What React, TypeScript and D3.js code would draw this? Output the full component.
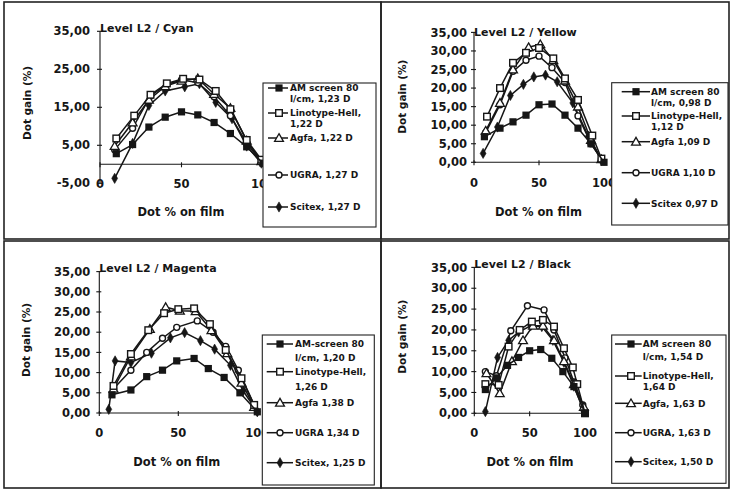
import * as d3 from 'd3';

type Pt = [number, number];

// ---- data (dot % on film, dot gain %) ----
const cyanAM: Pt[] = [[10, 2.8], [20, 5.2], [30, 9.8], [40, 12.4], [50, 13.8], [60, 13.0], [70, 11.0], [80, 8.1], [90, 4.6], [100, 0.3]];
const cyanLino: Pt[] = [[10, 6.8], [21, 12.8], [31, 18.3], [41, 21.3], [51, 22.5], [61, 22.3], [71, 19.3], [80, 14.5], [90, 6.4], [99, 1.2]];
const cyanAgfa: Pt[] = [[9, 4.8], [20, 11], [30, 17], [40, 20.5], [50, 22], [60, 22.6], [70, 18.5], [80, 14.8], [90, 6.2], [99, 0.8]];
const cyanUgra: Pt[] = [[9, 3.8], [20, 9.5], [31, 18], [41, 21], [50, 22.2], [60, 21.5], [70, 17.8], [80, 12.8], [90, 5.6], [99, 0.6]];
const cyanScitex: Pt[] = [[9, -3.7], [20, 5.5], [30, 15.5], [40, 19.3], [52, 20.4], [61, 21.2], [71, 16.3], [81, 12], [90, 4.8], [99, 0.3]];

const yellowAM: Pt[] = [[8, 6.9], [20, 9.2], [30, 10.9], [40, 12.7], [50, 15.5], [60, 15.7], [70, 12.7], [80, 9.2], [90, 5], [100, 0]];
const yellowLino: Pt[] = [[10, 12.3], [20, 20], [30, 26.8], [40, 29.5], [50, 30.8], [61, 28], [70, 22.6], [80, 16.8], [91, 7.2], [98, 1]];
const yellowAgfa: Pt[] = [[9, 8.5], [20, 16], [30, 25], [42, 31], [51, 31.8], [61, 27.5], [70, 22], [80, 15], [90, 6], [98, 0.8]];
const yellowUgra: Pt[] = [[9, 8], [20, 15.5], [30, 24.5], [40, 27.5], [50, 28.6], [60, 25.5], [70, 21.5], [80, 12.5], [90, 5], [98, 0.8]];
const yellowScitex: Pt[] = [[7, 2.4], [18, 9.5], [28, 18], [38, 21], [46, 23], [55, 23.5], [64, 21.7], [76, 16], [88, 7], [98, 0.5]];

const magentaAM: Pt[] = [[8, 4.5], [20, 5.7], [30, 9], [40, 10.6], [49, 12.9], [60, 13.5], [69, 11], [79, 8.8], [89, 5], [100, 0.3]];
const magentaLino: Pt[] = [[9, 6.7], [20, 14.6], [31, 20.5], [41, 24.7], [50, 25.7], [60, 25.9], [70, 22], [80, 15.6], [90, 8.6], [98, 2]];
const magentaAgfa: Pt[] = [[9, 6], [20, 14], [32, 20.8], [42, 26.2], [51, 25.3], [61, 25.2], [71, 20.5], [81, 14.8], [90, 7.5], [98, 1.5]];
const magentaUgra: Pt[] = [[9, 6], [20, 10.6], [30, 15], [40, 18.5], [49, 21.2], [62, 22.8], [72, 20], [80, 16.5], [88, 10.6], [98, 2]];
const magentaScitex: Pt[] = [[6, 0.9], [10, 12.9], [20, 12.5], [33, 14.8], [45, 18.6], [54, 19.9], [64, 17.9], [73, 15.8], [83, 11.8], [91, 5.5], [100, 0.3]];

const blackAM: Pt[] = [[10, 5.7], [20, 8.5], [30, 11.5], [40, 13.4], [50, 15], [60, 15.3], [70, 13.2], [80, 10], [90, 6.4], [100, 0]];
const blackLino: Pt[] = [[10, 7], [22, 6.8], [31, 16], [41, 20], [52, 22], [62, 22.4], [72, 20.8], [81, 15.6], [89, 11], [93, 7], [100, 0]];
const blackAgfa: Pt[] = [[11, 9.6], [23, 4.8], [34, 12.5], [44, 17.5], [53, 21], [62, 21], [72, 17.5], [81, 12.5], [90, 7], [99, 1.5]];
const blackUgra: Pt[] = [[10, 10], [20, 9], [33, 19.8], [48, 25.8], [63, 24.8], [72, 20], [82, 13.3], [90, 7.5], [98, 2]];
const blackScitex: Pt[] = [[10, 0.4], [21, 13.4], [31, 17.5], [40, 19.5], [51, 21], [61, 20.8], [71, 17.5], [81, 12.2], [90, 6.5], [99, 0.5]];

const cyanLegend = [['AM screen 80', 'l/cm, 1,23 D'], ['Linotype-Hell,', '1,22 D'], ['Agfa, 1,22 D'], ['UGRA, 1,27 D'], ['Scitex, 1,27 D']];
const yellowLegend = [['AM screen 80', 'l/cm, 0,98 D'], ['Linotype-Hell,', '1,12 D'], ['Agfa 1,09 D'], ['UGRA 1,10 D'], ['Scitex 0,97 D']];
const magentaLegend = [['AM-screen 80', 'l/cm, 1,20 D'], ['Linotype-Hell,', '1,26 D'], ['Agfa 1,38 D'], ['UGRA 1,34 D'], ['Scitex, 1,25 D']];
const blackLegend = [['AM screen 80', 'l/cm, 1,54 D'], ['Linotype-Hell,', '1,64 D'], ['Agfa, 1,63 D'], ['UGRA, 1,63 D'], ['Scitex, 1,50 D']];

const xTicks = [0, 50, 100];
const cyanYTicks = [-5, 5, 15, 25, 35];
const yTicks = [0, 5, 10, 15, 20, 25, 30, 35];

const MARKERS = ['filledSquare', 'openSquare', 'triangle', 'circle', 'diamond'];
const INK = '#161616';
const FONT = '"DejaVu Sans", Arial, sans-serif';

interface PanelCfg {
  title: string;
  series: Pt[][];
  legend: string[][];
  yDomain: [number, number];
  ticks: number[];
  frame: [number, number, number, number];
  xr: [number, number];
  yr: [number, number];
  labelGap: number;
  xLabelY: number;
  titleY: number;
  yLabel: [number, number];
  xTitle: [number, number];
  box: [number, number, number, number];
  rows: number[];
  line: [number, number, number, number];
}

const panels: PanelCfg[] = [
  {
    title: 'Level L2 / Cyan', series: [cyanAM, cyanLino, cyanAgfa, cyanUgra, cyanScitex], legend: cyanLegend,
    yDomain: [-5, 35], ticks: cyanYTicks, frame: [4, 2, 381, 239], xr: [100, 263], yr: [183.3, 31.3], labelGap: 10,
    xLabelY: 183.5, titleY: 28.5, yLabel: [27, 103], xTitle: [181, 212],
    box: [263, 83, 376, 227], rows: [88, 98.8, 113, 124, 138, 175, 207], line: [268, 288, 279, 290],
  },
  {
    title: 'Level L2 / Yellow', series: [yellowAM, yellowLino, yellowAgfa, yellowUgra, yellowScitex], legend: yellowLegend,
    yDomain: [0, 35], ticks: yTicks, frame: [381, 2, 729, 239], xr: [474, 604], yr: [162.3, 32.4], labelGap: 7,
    xLabelY: 183, titleY: 31.7, yLabel: [402.7, 96.7], xTitle: [538.5, 211.7],
    box: [611.7, 82.7, 728, 225], rows: [91.7, 102.5, 116, 127, 141.7, 172.7, 203.3], line: [621.7, 650, 636, 651],
  },
  {
    title: 'Level L2 / Magenta', series: [magentaAM, magentaLino, magentaAgfa, magentaUgra, magentaScitex], legend: magentaLegend,
    yDomain: [0, 35], ticks: yTicks, frame: [4, 241, 381, 488], xr: [99.3, 257.3], yr: [413, 271.6], labelGap: 9,
    xLabelY: 432.7, titleY: 268.3, yLabel: [26.7, 340], xTitle: [176.7, 461.7],
    box: [262.3, 335, 374.3, 485], rows: [344, 358, 371.7, 386.7, 402.7, 432.7, 462.7], line: [266.7, 293, 280, 295],
  },
  {
    title: 'Level L2 / Black', series: [blackAM, blackLino, blackAgfa, blackUgra, blackScitex], legend: blackLegend,
    yDomain: [0, 35], ticks: yTicks, frame: [381, 241, 729, 488], xr: [474.3, 585], yr: [413.3, 267.4], labelGap: 7,
    xLabelY: 432.7, titleY: 264, yLabel: [402.7, 336.7], xTitle: [530, 461.7],
    box: [611.7, 335, 726, 483.3], rows: [344, 356.7, 376, 386.7, 403.3, 432.7, 461.7], line: [615, 641.7, 631, 642.7],
  },
];

const fmt = (v: number) => v.toFixed(2).replace('.', ',');

function Marker({ kind, x, y }: { kind: string; x: number; y: number }) {
  if (kind === 'filledSquare') return <rect x={x - 3.6} y={y - 3.6} width={7.2} height={7.2} fill={INK} />;
  if (kind === 'openSquare') return <rect x={x - 3.3} y={y - 3.3} width={6.6} height={6.6} fill="#fff" stroke={INK} strokeWidth={1.4} />;
  if (kind === 'circle') return <circle cx={x} cy={y} r={3} fill="#fff" stroke={INK} strokeWidth={1.4} />;
  const sym = kind === 'triangle' ? d3.symbolTriangle : d3.symbolDiamond;
  const size = kind === 'triangle' ? 34 : 30;
  return (
    <path
      d={d3.symbol(sym, size)() as string}
      transform={`translate(${x},${y + (kind === 'triangle' ? 0.8 : 0)})`}
      fill={kind === 'triangle' ? '#fff' : INK}
      stroke={INK}
      strokeWidth={kind === 'triangle' ? 1.3 : 0.6}
    />
  );
}

function Panel({ p }: { p: PanelCfg }) {
  const x = d3.scaleLinear().domain([0, 100]).range(p.xr);
  const y = d3.scaleLinear().domain(p.yDomain).range(p.yr);
  const line = d3.line<Pt>().x((d) => x(d[0])).y((d) => y(d[1]));
  const [fx, fy, fx2, fy2] = p.frame;
  const [bx, by, bx2, by2] = p.box;
  const [l1, l2, lm, lt] = p.line;
  // legend rows: marker y, plus optional second text line
  const rowMap = [
    { y: p.rows[0], y2: p.rows[1] },
    { y: p.rows[2], y2: p.rows[3] },
    { y: p.rows[4] },
    { y: p.rows[5] },
    { y: p.rows[6] },
  ];
  const order = [4, 3, 2, 1, 0];

  return (
    <g>
      <rect x={fx} y={fy} width={fx2 - fx} height={fy2 - fy} fill="none" stroke="#222" strokeWidth={1.6} />

      {/* axes */}
      <line x1={x(0)} x2={x(0)} y1={y(p.yDomain[0])} y2={y(p.yDomain[1])} stroke={INK} strokeWidth={1.1} />
      <line x1={x(0)} x2={x(100)} y1={y(0)} y2={y(0)} stroke={INK} strokeWidth={1.1} />
      {p.ticks.map((t) => (
        <g key={t}>
          <line x1={x(0) - 3} x2={x(0) + 2} y1={y(t)} y2={y(t)} stroke={INK} strokeWidth={1.1} />
          <text x={x(0) - p.labelGap} y={y(t)} dy="0.36em" textAnchor="end" fontSize={11.5} fontWeight="bold" fill={INK}>
            {fmt(t)}
          </text>
        </g>
      ))}
      {xTicks.map((t) => (
        <g key={t}>
          <line x1={x(t)} x2={x(t)} y1={y(0) - 2} y2={y(0) + 3} stroke={INK} strokeWidth={1.1} />
          <text x={x(t)} y={p.xLabelY} dy="0.36em" textAnchor="middle" fontSize={11.5} fontWeight="bold" fill={INK}>
            {t}
          </text>
        </g>
      ))}

      <text x={x(0)} y={p.titleY} dy="0.36em" fontSize={11} fontWeight="bold" fill={INK}>{p.title}</text>
      <text
        transform={`translate(${p.yLabel[0]},${p.yLabel[1]}) rotate(-90)`}
        dy="0.36em" textAnchor="middle" fontSize={10.5} fontWeight="bold" fill={INK}
      >
        Dot gain (%)
      </text>
      <text x={p.xTitle[0]} y={p.xTitle[1]} dy="0.36em" textAnchor="middle" fontSize={11.5} fontWeight="bold" fill={INK}>
        Dot % on film
      </text>

      {/* series */}
      {order.map((i) => (
        <g key={i}>
          <path d={line(p.series[i]) as string} fill="none" stroke={INK} strokeWidth={1.5} />
          {p.series[i].map((d, j) => (
            <Marker key={j} kind={MARKERS[i]} x={x(d[0])} y={y(d[1])} />
          ))}
        </g>
      ))}

      {/* legend */}
      <rect x={bx} y={by} width={bx2 - bx} height={by2 - by} fill="#fff" stroke="#222" strokeWidth={1.1} />
      {rowMap.map((r, i) => (
        <g key={i}>
          <line x1={l1} x2={l2} y1={r.y} y2={r.y} stroke={INK} strokeWidth={1.5} />
          <Marker kind={MARKERS[i]} x={lm} y={r.y} />
          <text x={lt} y={r.y} dy="0.36em" fontSize={9} fontWeight="bold" fill={INK}>{p.legend[i][0]}</text>
          {p.legend[i][1] && r.y2 !== undefined && (
            <text x={lt} y={r.y2} dy="0.36em" fontSize={9} fontWeight="bold" fill={INK}>{p.legend[i][1]}</text>
          )}
        </g>
      ))}
    </g>
  );
}

export default function App() {
  return (
    <svg
      width={732}
      height={491}
      style={{ position: 'absolute', left: 0, top: 0, background: '#fff', fontFamily: FONT }}
    >
      <rect width={732} height={491} fill="#fff" />
      {panels.map((p) => (
        <Panel key={p.title} p={p} />
      ))}
    </svg>
  );
}
